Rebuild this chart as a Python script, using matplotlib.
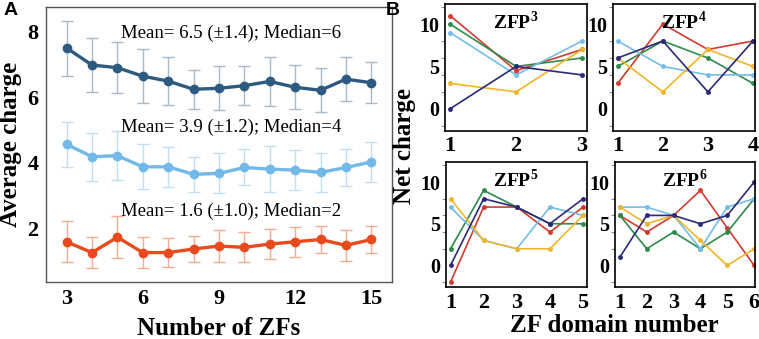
import numpy as np
import matplotlib.pyplot as plt

plt.rcParams['font.family'] = ['Liberation Serif', 'DejaVu Serif']
plt.rcParams['mathtext.fontset'] = 'custom'
plt.rcParams['mathtext.bf'] = 'Liberation Serif:bold'
plt.rcParams['mathtext.rm'] = 'Liberation Serif'

# Panel A: average charge vs number of ZFs
n_zfs = [3, 4, 5, 6, 7, 8, 9, 10, 11, 12, 13, 14, 15]
high_mean = [7.50, 6.98, 6.90, 6.64, 6.49, 6.24, 6.27, 6.35, 6.48, 6.30, 6.21, 6.55, 6.44]
high_err = [0.84, 0.82, 0.77, 0.83, 0.74, 0.60, 0.67, 0.60, 0.76, 0.67, 0.67, 0.68, 0.62]
mid_mean = [4.56, 4.18, 4.21, 3.87, 3.87, 3.64, 3.67, 3.85, 3.80, 3.77, 3.70, 3.85, 4.02]
mid_err = [0.69, 0.73, 0.75, 0.69, 0.61, 0.54, 0.61, 0.55, 0.71, 0.61, 0.60, 0.58, 0.60]
low_mean = [1.58, 1.25, 1.72, 1.25, 1.25, 1.36, 1.45, 1.41, 1.51, 1.58, 1.65, 1.47, 1.65]
low_err = [0.62, 0.48, 0.65, 0.48, 0.45, 0.40, 0.50, 0.46, 0.46, 0.46, 0.42, 0.47, 0.42]
a_notes = ["Mean= 6.5 (\u00b11.4); Median=6",
           "Mean= 3.9 (\u00b11.2); Median=4",
           "Mean= 1.6 (\u00b11.0); Median=2"]

# Panel B: net charge per ZF domain, series order: red, green, light blue, yellow, navy
zfp3 = [[11, 4.5, 7], [10, 5, 6], [9, 4, 8], [3, 2, 7], [0, 5, 4]]
zfp4 = [[3, 10, 7, 8], [5, 8, 6, 3], [8, 5, 4, 4], [6, 2, 7, 5], [6, 8, 2, 8]]
zfp5 = [[-2, 7, 7, 4, 7], [2, 9, 7, 5, 5], [7, 3, 2, 7, 6], [8, 3, 2, 2, 6], [0, 8, 7, 5, 8]]
zfp6 = [[6, 4, 6, 9, 4.5, 0], [6, 2, 4, 2, 4, 8], [7, 7, 6, 2, 7, 8],
        [7, 5, 6, 3, 0, 2], [1, 6, 6, 5, 6, 10]]
b_colors = ['#d23b2e', '#2f8a4c', '#74bde6', '#f0b52a', '#2b2a78']

fig = plt.figure(figsize=(7.59, 3.39), dpi=100)

# ---- Panel A
ax = fig.add_axes([0.060, 0.169, 0.456, 0.809])
series = [(high_mean, high_err, '#2c5a80', '#a8b9cb'),
          (mid_mean, mid_err, '#72b8e8', '#bfdff4'),
          (low_mean, low_err, '#e84a1e', '#f5ab92')]
for mean, err, c, ec in series:
    ax.errorbar(n_zfs, mean, yerr=err, fmt='none', ecolor=ec, elinewidth=1,
                capsize=4.5, capthick=1, zorder=1)
    ax.plot(n_zfs, mean, '-o', color=c, lw=2.4, ms=6, zorder=3)
for note, yy in zip(a_notes, [7.95, 5.09, 2.5]):
    ax.text(5.15, yy, note, fontsize=13.5, ha='left', va='center')
ax.set_xlim(2.17, 15.8)
ax.set_ylim(0.36, 8.74)
ax.set_xticks([3, 6, 9, 12, 15])
ax.set_yticks([2, 4, 6, 8])
ax.tick_params(length=0, labelsize=16, pad=5)
for lab in ax.get_xticklabels() + ax.get_yticklabels():
    lab.set_fontweight('bold')
for s in ax.spines.values():
    s.set_color('#555555')
    s.set_linewidth(1)
ax.set_xlabel('Number of ZFs', fontsize=18, fontweight='bold')
ax.xaxis.set_label_coords(0.5, -0.13)
ax.set_ylabel('Average charge', fontsize=18, fontweight='bold', labelpad=4)

# ---- Panel B
b_panels = [(zfp3, '3', [0.586, 0.614, 0.187, 0.375], (0.92, 3.07)),
            (zfp4, '4', [0.808, 0.614, 0.187, 0.375], (0.90, 4.05)),
            (zfp5, '5', [0.587, 0.153, 0.186, 0.369], (0.85, 5.11)),
            (zfp6, '6', [0.810, 0.153, 0.185, 0.369], (0.81, 6.04))]
for data, sup, rect, xl in b_panels:
    bx = fig.add_axes(rect)
    n = len(data[0])
    xs = np.arange(1, n + 1)
    for vals, c in zip(data, b_colors):
        bx.plot(xs, vals, '-o', color=c, lw=1.2, ms=2.5)
    bx.set_xlim(*xl)
    bx.set_ylim(-2.6, 12.4)
    bx.set_xticks(xs)
    bx.set_yticks([0, 5, 10])
    bx.set_yticks(np.arange(-2, 13, 2), minor=True)
    bx.tick_params(axis='y', which='major', length=0, labelsize=14.5, pad=4)
    bx.tick_params(axis='y', which='minor', length=3, width=0.6, color='#777777')
    bx.tick_params(axis='x', length=0, labelsize=16, pad=4)
    for lab in bx.get_xticklabels() + bx.get_yticklabels():
        lab.set_fontweight('bold')
    for s in bx.spines.values():
        s.set_linewidth(1.2)
    bx.text(0.5, 0.95, 'ZFP$^{\\mathbf{' + sup + '}}$', transform=bx.transAxes,
            ha='center', va='top', fontsize=14, fontweight='bold')

fig.text(0.533, 0.57, 'Net charge', rotation=90, ha='center', va='center',
         fontsize=18, fontweight='bold')
fig.text(0.81, 0.04, 'ZF domain number', ha='center', va='center',
         fontsize=18, fontweight='bold')

fig.text(0.004, 0.995, 'A', ha='left', va='top', fontsize=14, fontweight='bold',
         family='Liberation Sans')
fig.text(0.508, 0.995, 'B', ha='left', va='top', fontsize=14, fontweight='bold',
         family='Liberation Sans')

fig.savefig('out.png', dpi=100)
